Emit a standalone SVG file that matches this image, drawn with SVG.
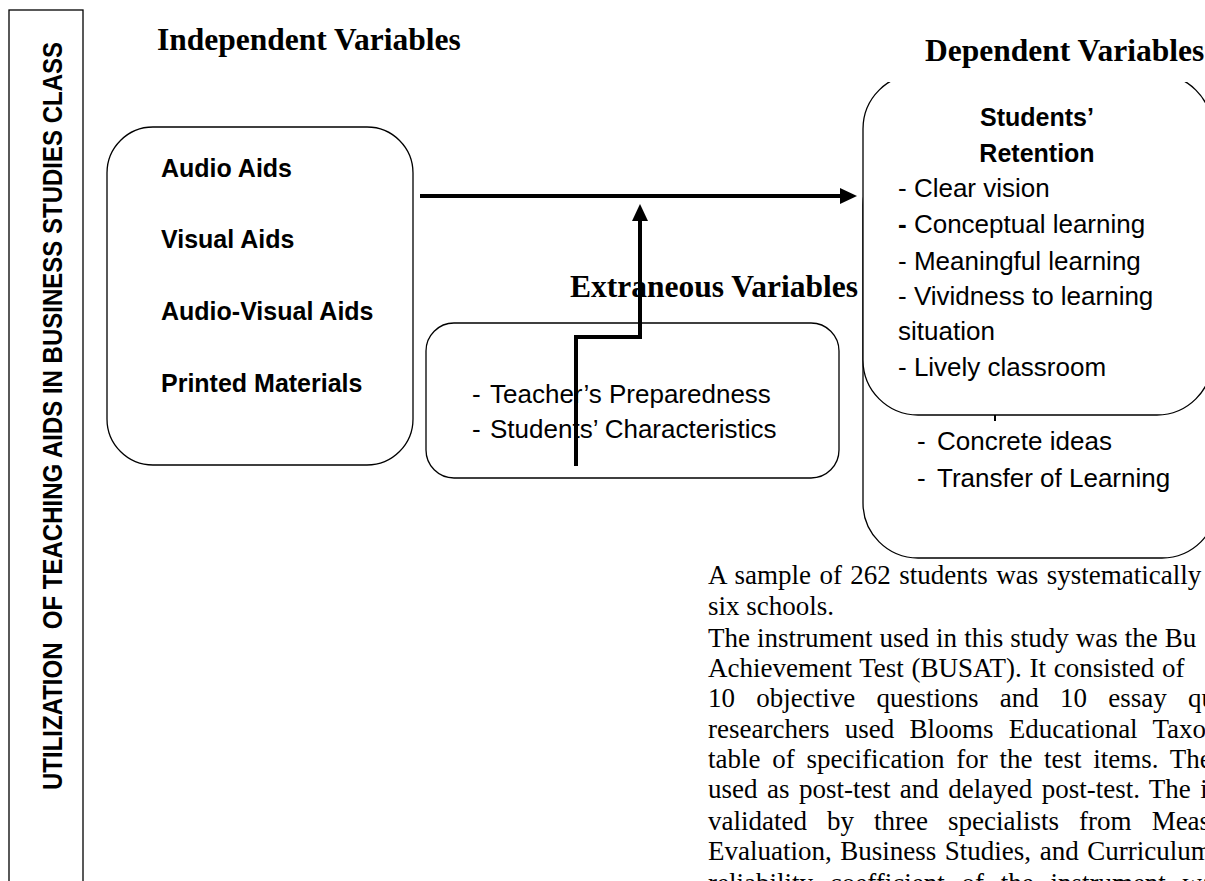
<svg xmlns="http://www.w3.org/2000/svg" width="1205" height="881" viewBox="0 0 1205 881">
<defs>
<style>
.box{fill:#fff;stroke:#000;stroke-width:1.3}
.ttl{font-family:"Liberation Serif","Times New Roman",serif;font-weight:bold;font-size:31.5px;fill:#000}
.sb{font-family:"Liberation Sans",Arial,sans-serif;font-weight:bold;font-size:25px;fill:#000}
.sr{font-family:"Liberation Sans",Arial,sans-serif;font-size:26px;fill:#000}
.para{font-family:"Liberation Serif","Times New Roman",serif;font-size:27px;fill:#000}
.conn{fill:none;stroke:#000;stroke-width:4}
</style>
<marker id="ah" viewBox="0 0 17 16" markerWidth="17" markerHeight="16" refX="0" refY="8" orient="auto" markerUnits="userSpaceOnUse">
<path d="M0,0 L17,8 L0,16 z" fill="#000"/>
</marker>
</defs>
<rect width="1205" height="881" fill="#fff"/>

<g id="title-box">
<rect x="9" y="10" width="74" height="900" fill="#fff" stroke="#000" stroke-width="1.3"/>
<text class="sb" style="font-size:27px" transform="translate(62,790) rotate(-90)" textLength="748" lengthAdjust="spacingAndGlyphs" xml:space="preserve">UTILIZATION  OF TEACHING AIDS IN BUSINESS STUDIES CLASS</text>
</g>

<text id="independent-label" class="ttl" x="157" y="50">Independent Variables</text>
<text id="extraneous-label" class="ttl" x="570" y="297">Extraneous Variables</text>

<g id="independent">
<rect class="box" x="107" y="127" width="306" height="338" rx="46"/>
<text class="sb" x="161" y="177">Audio Aids</text>
<text class="sb" x="161" y="248">Visual Aids</text>
<text class="sb" x="161" y="320">Audio-Visual Aids</text>
<text class="sb" x="161" y="392">Printed Materials</text>
</g>

<g id="extraneous">
<rect class="box" x="426" y="323" width="413" height="155" rx="28"/>
<text class="sr" x="472" y="403">-</text>
<text class="sr" x="490" y="403">Teacher’s Preparedness</text>
<text class="sr" x="472" y="438">-</text>
<text class="sr" x="490" y="438">Students’ Characteristics</text>
</g>

<g id="connectors">
<path class="conn" d="M420,196 H840" marker-end="url(#ah)"/>
<path class="conn" d="M576,466 V337 H640 V221" marker-end="url(#ah)"/>
</g>

<g id="dependent-back">
<rect class="box" x="863" y="150" width="354" height="408" rx="55"/>
<line x1="995" y1="415" x2="995" y2="421" stroke="#000" stroke-width="2"/>
<text class="sr" x="917" y="450">-</text>
<text class="sr" x="937" y="450">Concrete ideas</text>
<text class="sr" x="917" y="487">-</text>
<text class="sr" x="937" y="487">Transfer of Learning</text>
</g>

<g id="dependent-front">
<rect class="box" x="863" y="74" width="349" height="341" rx="55"/>
<rect x="875" y="20" width="330" height="62" fill="#fff"/>
<text class="sb" x="1037" y="126" text-anchor="middle">Students’</text>
<text class="sb" x="1037" y="162" text-anchor="middle">Retention</text>
<text class="sr" x="898" y="197">- Clear vision</text>
<text class="sr" x="898" y="233"><tspan font-weight="bold">-</tspan> Conceptual learning</text>
<text class="sr" x="898" y="270">- Meaningful learning</text>
<text class="sr" x="898" y="305">- Vividness to learning</text>
<text class="sr" x="898" y="340">situation</text>
<text class="sr" x="898" y="376">- Lively classroom</text>
</g>

<text id="dependent-label" class="ttl" x="925" y="61">Dependent Variables</text>

<g id="paragraph" class="para">
<text x="708" y="584" word-spacing="1.7">A sample of 262 students was systematically</text>
<text x="708" y="615">six schools.</text>
<text x="708" y="647" word-spacing="0.3">The instrument used in this study was the Bu</text>
<text x="708" y="677" word-spacing="1">Achievement Test (BUSAT). It consisted of</text>
<text x="708" y="707" word-spacing="14.5">10 objective questions and 10 essay qu</text>
<text x="708" y="738" word-spacing="8.5">researchers used Blooms Educational Taxon</text>
<text x="708" y="768" word-spacing="5">table of specification for the test items. The</text>
<text x="708" y="798" word-spacing="2.7">used as post-test and delayed post-test. The in</text>
<text x="708" y="830" word-spacing="13.3">validated by three specialists from Meas</text>
<text x="708" y="860" word-spacing="1.8">Evaluation, Business Studies, and Curriculum</text>
<text x="708" y="892" word-spacing="10">reliability coefficient of the instrument wa</text>
</g>
</svg>
